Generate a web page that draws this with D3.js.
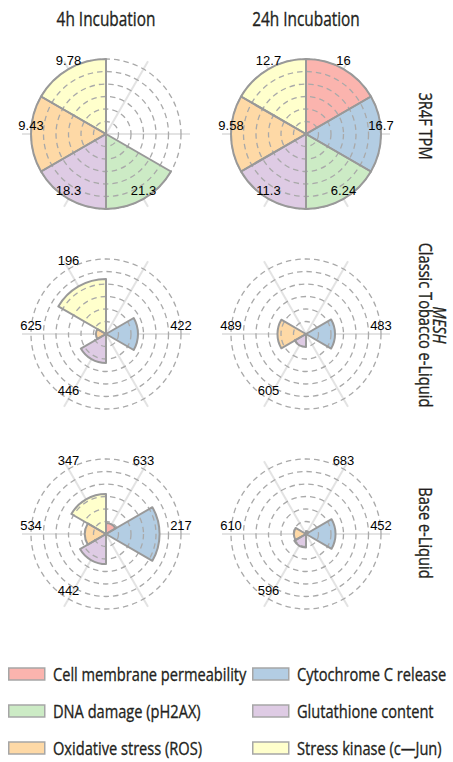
<!DOCTYPE html>
<html>
<head>
<meta charset="utf-8">
<script src="https://cdn.jsdelivr.net/npm/d3@7"></script>
<style>
  html, body { margin: 0; padding: 0; background: #fff; }
  svg { display: block; }
</style>
</head>
<body>
<svg id="chart" width="453" height="762"></svg>
<script>
// Six cytotoxicity endpoints, one 60-degree wedge each (clockwise from 12 o'clock)
const metrics = [
  "Cell membrane permeability",
  "Cytochrome C release",
  "DNA damage (pH2AX)",
  "Glutathione content",
  "Oxidative stress (ROS)",
  "Stress kinase (c\u2014Jun)"
];
const metricColors = ["#fbb4ae", "#b3cde3", "#ccebc5", "#decbe4", "#fed9a6", "#ffffcc"];

const incubations = ["4h Incubation", "24h Incubation"];
const products = ["3R4F TPM", "MESH|Classic Tobacco e-Liquid", "Base e-Liquid"];

// Outer-ring value of each axis (printed at the rim); null = endpoint not reached
const tpm4hMax   = [null, null, 21.3, 18.3, 9.43, 9.78];
const tpm24hMax  = [16, 16.7, 6.24, 11.3, 9.58, 12.7];
const mesh4hMax  = [null, 422, null, 446, 625, 196];
const mesh24hMax = [null, 483, null, 605, 489, null];
const base4hMax  = [633, 217, null, 442, 534, 347];
const base24hMax = [683, 452, null, 596, 610, null];

// Wedge values on the same per-axis scale
const tpm4hValues   = [null, null, 21.3, 18.3, 9.43, 9.78];
const tpm24hValues  = [16, 16.7, 6.24, 11.3, 9.58, 12.7];
const mesh4hValues  = [null, 180, null, 173, 83, 144];
const mesh24hValues = [null, 187, null, 105, 186, null];
const base4hValues  = [93, 155, null, 177, 150, 185];
const base24hValues = [27, 178, null, 107, 98, null];

const panels = [
  { product: products[0], incubation: incubations[0], values: tpm4hValues,   max: tpm4hMax },
  { product: products[0], incubation: incubations[1], values: tpm24hValues,  max: tpm24hMax },
  { product: products[1], incubation: incubations[0], values: mesh4hValues,  max: mesh4hMax },
  { product: products[1], incubation: incubations[1], values: mesh24hValues, max: mesh24hMax },
  { product: products[2], incubation: incubations[0], values: base4hValues,  max: base4hMax },
  { product: products[2], incubation: incubations[1], values: base24hValues, max: base24hMax }
];

const svg = d3.select("#chart");
const SANS = "'Open Sans', 'Noto Sans', sans-serif";
const ARIAL = "'Liberation Sans', Arial, sans-serif";
const CONDENSE = 0.77;
const INK = "#231f20";

// narrow a humanist sans horizontally and darken it slightly
function condensedText(parent, x, y, str, size, opts = {}) {
  return parent.append("text")
    .attr("transform", `translate(${x},${y}) scale(${CONDENSE},1)`)
    .attr("text-anchor", opts.anchor || "start")
    .attr("font-family", SANS)
    .attr("font-size", size)
    .attr("font-style", opts.italic ? "italic" : "normal")
    .attr("fill", INK)
    .attr("stroke", INK)
    .attr("stroke-width", 0.35)
    .text(str);
}

const R = 75;          // outer ring
const axisR = 84;      // spoke length
const ringCount = 6;
const colX = d3.scalePoint().domain(incubations).range([106, 306]);
const rowY = d3.scalePoint().domain(products).range([134, 534]);
const rowLabelY = [126, 325, 533];
const slice = 2 * Math.PI / metrics.length;

// column headers
incubations.forEach(c => condensedText(svg, colX(c), 26, c, 20, { anchor: "middle" }));

// row headers, rotated to read downward on the right edge
products.forEach((p, pi) => {
  const lines = p.split("|");
  const g = svg.append("g").attr("transform", `translate(419,${rowLabelY[pi]}) rotate(90)`);
  lines.forEach((line, i) => {
    condensedText(g, 0, -(lines.length - 1 - i) * 14, line, 19,
      { anchor: "middle", italic: lines.length > 1 && i === 0 });
  });
});

const arc = d3.arc();

panels.forEach(panel => {
  const g = svg.append("g")
    .attr("transform", `translate(${colX(panel.incubation)},${rowY(panel.product)})`);

  // spokes through the middle of every wedge
  g.selectAll("line.spoke")
    .data(d3.range(metrics.length))
    .join("line")
    .attr("x1", 0).attr("y1", 0)
    .attr("x2", i => axisR * Math.sin((i + 0.5) * slice))
    .attr("y2", i => -axisR * Math.cos((i + 0.5) * slice))
    .attr("stroke", "#e3e3e3")
    .attr("stroke-width", 2);

  const wedges = metrics.map((m, i) => {
    const v = panel.values[i];
    if (v == null) return null;
    const r = d3.scaleLinear().domain([0, panel.max[i]]).range([0, R]);
    return { i, path: arc({ innerRadius: 0, outerRadius: r(v), startAngle: i * slice, endAngle: (i + 1) * slice }) };
  }).filter(Boolean);

  g.selectAll("path.fill")
    .data(wedges)
    .join("path")
    .attr("d", d => d.path)
    .attr("fill", d => metricColors[d.i]);

  // dashed reference rings
  g.selectAll("circle.ring")
    .data(d3.range(1, ringCount + 1))
    .join("circle")
    .attr("r", k => R * k / ringCount)
    .attr("fill", "none")
    .attr("stroke", "#a9a9a9")
    .attr("stroke-width", 1.3)
    .attr("stroke-dasharray", "5.5,4");

  g.selectAll("path.edge")
    .data(wedges)
    .join("path")
    .attr("d", d => d.path)
    .attr("fill", "none")
    .attr("stroke", "#999")
    .attr("stroke-width", 2)
    .attr("stroke-linejoin", "round");

  // rim labels
  g.selectAll("text.rim")
    .data(d3.range(metrics.length).filter(i => panel.max[i] != null))
    .join("text")
    .attr("x", i => R * Math.sin((i + 0.5) * slice))
    .attr("y", i => -R * Math.cos((i + 0.5) * slice) - 4)
    .attr("text-anchor", "middle")
    .attr("font-family", ARIAL)
    .attr("font-size", 13)
    .attr("fill", "#000")
    .text(i => String(panel.max[i]));
});

// legend: two columns, three rows
const legX = [8, 252];
const legY = [681, 718, 755];
metrics.forEach((m, i) => {
  const g = svg.append("g")
    .attr("transform", `translate(${legX[i % 2]},${legY[Math.floor(i / 2)]})`);
  g.append("rect")
    .attr("x", 0.75).attr("y", -13)
    .attr("width", 36).attr("height", 12)
    .attr("fill", metricColors[i])
    .attr("stroke", "#a6a6a6")
    .attr("stroke-width", 1.5);
  condensedText(g, 45, 0, m, 19);
});
</script>
</body>
</html>
